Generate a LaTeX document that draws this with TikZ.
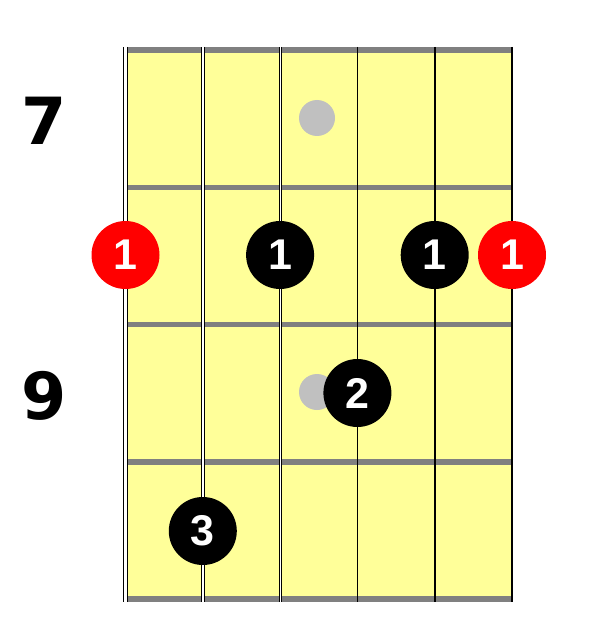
\documentclass[tikz,border=0pt]{standalone}
\usepackage{fontspec}
\setmainfont{Liberation Sans}
\newfontfamily\fretfont{DejaVu Sans}
\usetikzlibrary{calc}

\definecolor{board}{RGB}{255,255,153}
\definecolor{fretgray}{RGB}{128,128,128}
\definecolor{inlay}{RGB}{192,192,192}

\tikzset{
  finger/.style = {circle, fill = black, minimum size = 68pt, inner sep = 0pt,
    text = white, font = \bfseries\fontsize{43}{43}\selectfont},
  root/.style = {finger, fill = red},
  fretnum/.style = {font = \fretfont\bfseries\fontsize{65}{65}\selectfont},
  wound/.style = {double = white, line width = 1pt},
}

\begin{document}
\begin{tikzpicture}[x = 1pt, y = -1pt]
		\def\nut{125.5};
		\def\gap{77.3};
		\def\ytop{50};
		\def\fretgap{137.25};

		\useasboundingbox (0,0) rectangle (613,639);

		\fill [board] (\nut,47) rectangle (512.5,602);

		\foreach \f in {0,...,4}
			\draw [fretgray, line width = 5.5pt] (\nut,{\ytop + \f*\fretgap}) -- (512.5,{\ytop + \f*\fretgap});

		\foreach \s in {1,...,6}
			\coordinate (string \s) at ({\nut + (\s-1)*\gap},0);

		\draw [wound, double distance = 2.4pt] (string 1) ++(0,47) -- ++(0,555);
		\draw [wound, double distance = 1.6pt] (string 2) ++(0,47) -- ++(0,555);
		\draw [wound, double distance = 1.0pt] (string 3) ++(0,47) -- ++(0,555);
		\foreach \s in {4,5,6}
			\draw [line width = 1.6pt] (string \s) ++(0,47) -- ++(0,555);

		\fill [inlay] (317,118) circle [radius = 18pt];
		\fill [inlay] (317,392) circle [radius = 18pt];

		\node [fretnum] (fret 7) at (44,121) {7};
		\node [fretnum] (fret 9) at (44,396) {9};

		\node [root] (root low) at ($(string 1) + (0,255)$) {1};
		\node [finger] (bar a) at ($(string 3) + (0,255)$) {1};
		\node [finger] (bar b) at ($(string 5) + (0,255)$) {1};
		\node [root] (root high) at ($(string 6) + (0,255)$) {1};
		\node [finger] (second) at ($(string 4) + (0,393)$) {2};
		\node [finger] (third) at ($(string 2) + (0,531)$) {3};
	\end{tikzpicture}
\end{document}
